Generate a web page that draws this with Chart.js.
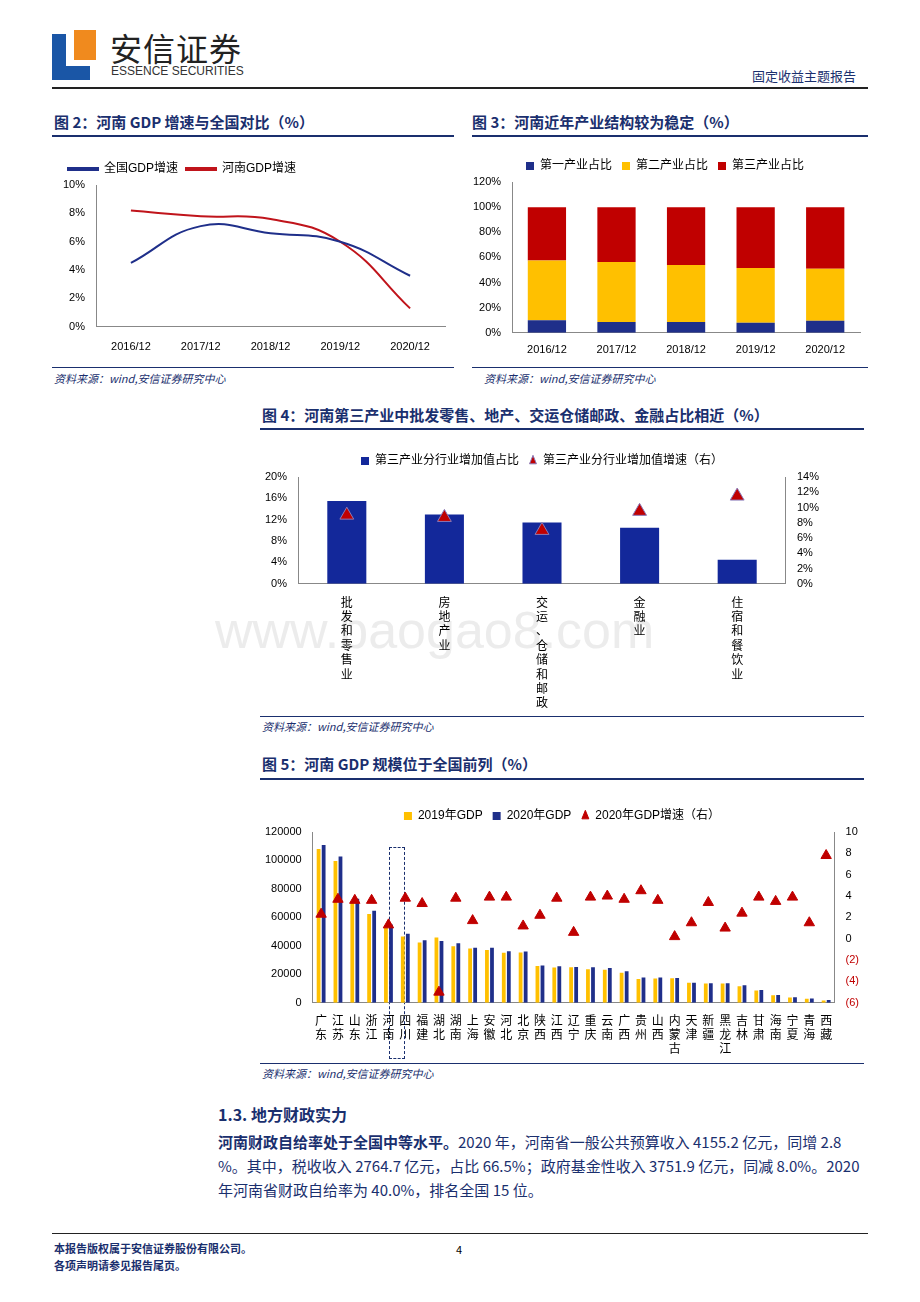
<!DOCTYPE html>
<html><head><meta charset="utf-8">
<script src="https://cdn.jsdelivr.net/npm/chart.js@4"></script>
<style>
body{margin:0;width:920px;height:1302px;background:#fff;font-family:"Noto Sans CJK SC","Noto Sans",sans-serif;position:relative;overflow:hidden}
.a{position:absolute}
.t{font-weight:bold;color:#1a2f6e;font-size:15px}
.ln{position:absolute;height:2px;background:#1a2f6e}
.src{font-size:11px;font-style:italic;color:#1a2f6e}
canvas{position:absolute}
</style></head><body>
<div class="a" style="left:52px;top:34px;width:14px;height:46px;background:#1a56a6"></div>
<div class="a" style="left:52px;top:66px;width:38px;height:14px;background:#1a56a6"></div>
<div class="a" style="left:74px;top:30px;width:22px;height:30px;background:#f08a1e"></div>
<div class="a" style="left:110px;top:24px;font-size:32px;color:#222;letter-spacing:1px">安信证券</div>
<div class="a" style="left:111px;top:64px;font-size:12px;color:#333;font-family:'Liberation Sans Narrow','Liberation Sans';">ESSENCE SECURITIES</div>
<div class="a" style="left:752px;top:66px;font-size:13px;color:#1a2f6e">固定收益主题报告</div>
<div class="ln" style="left:52px;top:87px;width:816px;height:1.5px;background:#222"></div>

<div class="a t" style="left:54px;top:111px">图 2：河南 GDP 增速与全国对比（%）</div>
<div class="ln" style="left:52px;top:135px;width:402px"></div>
<div class="a t" style="left:472px;top:111px">图 3：河南近年产业结构较为稳定（%）</div>
<div class="ln" style="left:472px;top:135px;width:396px"></div>
<div class="ln" style="left:52px;top:367px;width:402px;height:1px"></div>
<div class="ln" style="left:472px;top:367px;width:396px;height:1px"></div>
<div class="a src" style="left:54px;top:370px">资料来源：wind,安信证券研究中心</div>
<div class="a src" style="left:484px;top:370px">资料来源：wind,安信证券研究中心</div>

<div class="a t" style="left:262px;top:404px">图 4：河南第三产业中批发零售、地产、交运仓储邮政、金融占比相近（%）</div>
<div class="ln" style="left:260px;top:428px;width:604px"></div>
<div class="ln" style="left:260px;top:716px;width:604px;height:1px"></div>
<div class="a src" style="left:262px;top:718px">资料来源：wind,安信证券研究中心</div>

<div class="a t" style="left:262px;top:753px">图 5：河南 GDP 规模位于全国前列（%）</div>
<div class="ln" style="left:260px;top:778px;width:604px"></div>
<div class="ln" style="left:260px;top:1063px;width:604px;height:1px"></div>
<div class="a src" style="left:262px;top:1065px">资料来源：wind,安信证券研究中心</div>

<div class="a" style="left:218px;top:1102px;font-size:16px;font-weight:bold;color:#1a2f6e">1.3. 地方财政实力</div>
<div class="a" style="left:218px;top:1130px;width:650px;font-size:15px;line-height:24px;color:#1a2f6e"><b>河南财政自给率处于全国中等水平。</b>2020 年，河南省一般公共预算收入 4155.2 亿元，同增 2.8 %。其中，税收收入 2764.7 亿元，占比 66.5%；政府基金性收入 3751.9 亿元，同减 8.0%。2020 年河南省财政自给率为 40.0%，排名全国 15 位。</div>
<div class="ln" style="left:52px;top:1233px;width:816px;height:1px;background:#222"></div>
<div class="a" style="left:54px;top:1240px;font-size:11px;font-weight:bold;color:#1a2f6e;line-height:17px">本报告版权属于安信证券股份有限公司。<br>各项声明请参见报告尾页。</div>
<div class="a" style="left:456px;top:1241px;font-size:11px">4</div>
<div class="a" style="left:215px;top:600px;font-size:52px;color:rgba(200,200,200,0.35);font-family:'Liberation Sans'">www.baogao8.com</div>
<div class="a" style="left:389px;top:847px;width:14px;height:210px;border:1.5px dashed #1a2f6e"></div>

<canvas id="c2" style="left:50px;top:155px" width="405" height="205"></canvas>
<canvas id="c3" style="left:470px;top:150px" width="400" height="210"></canvas>
<canvas id="c4" style="left:262px;top:445px" width="560" height="268"></canvas>
<canvas id="c5" style="left:262px;top:800px" width="600" height="258"></canvas>
<script>
const years=['2016/12','2017/12','2018/12','2019/12','2020/12'];
const natGrowth=[4.5,7.1,6.6,6.0,3.6];
const henanGrowth=[8.2,7.8,7.6,6.0,1.3];
const ind1=[10,8.5,8.5,8,9.5];
const ind2=[47.5,47.8,45.5,43.5,41.5];
const ind3=[42.5,43.7,46,48.5,49];
const sectors=['批发和零售业','房地产业','交运、仓储和邮政','金融业','住宿和餐饮业'];
const sectorShare=[15.5,13,11.5,10.5,4.5];
const sectorGrowth=[9,8.7,7,9.5,11.5];
const provs=['广东','江苏','山东','浙江','河南','四川','福建','湖北','湖南','上海','安徽','河北','北京','陕西','江西','辽宁','重庆','云南','广西','贵州','山西','内蒙古','天津','新疆','黑龙江','吉林','甘肃','海南','宁夏','青海','西藏'];
const gdp2019=[108000,99600,71000,62400,54300,46600,42400,45800,39800,38100,37100,35100,35400,25800,24800,24900,23600,23200,21200,16800,17000,17200,14100,13600,13600,11700,8700,5300,3700,2900,1700];
const gdp2020=[110800,102700,73100,64600,55000,48600,43900,43400,41800,38700,38700,36200,36100,26200,25700,25100,25000,24500,22200,17800,17700,17400,14100,13800,13700,12300,9000,5500,3900,3000,1900];
const growth2020=[2.3,3.7,3.6,3.6,1.3,3.8,3.3,-5.0,3.8,1.7,3.9,3.9,1.2,2.2,3.8,0.6,3.9,4.0,3.7,4.5,3.6,0.2,1.5,3.4,1.0,2.4,3.9,3.5,3.9,1.5,7.8];

Chart.defaults.font.family='"Liberation Sans","Noto Sans CJK SC",sans-serif';
Chart.defaults.font.size=11;Chart.defaults.color='#000';
Chart.defaults.animation=false;Chart.defaults.responsive=false;
const ax={grid:{display:false},border:{color:'#888'},ticks:{color:'#000'}};
const lg={position:'top',labels:{boxWidth:8,boxHeight:8,font:{size:12},color:'#000',sort:(a,b)=>a.datasetIndex-b.datasetIndex}};
const mk=s=>s.split('');

new Chart(c2,{type:'line',data:{labels:years,datasets:[
{label:'全国GDP增速',data:natGrowth,borderColor:'#1f2f8a',backgroundColor:'#1f2f8a',borderWidth:2,pointRadius:0,tension:0.45},
{label:'河南GDP增速',data:henanGrowth,borderColor:'#c0141b',backgroundColor:'#c0141b',borderWidth:2,pointRadius:0,tension:0.45}]},
options:{layout:{padding:{right:10,left:10}},plugins:{legend:{...lg,align:'start',labels:{...lg.labels,boxWidth:30,boxHeight:2,padding:8}}},
scales:{x:{...ax,offset:true,ticks:{padding:6}},y:{...ax,min:0,max:10,ticks:{stepSize:2,callback:v=>v+'%'}}}}});

new Chart(c3,{type:'bar',data:{labels:years,datasets:[
{label:'第一产业占比',data:ind1,backgroundColor:'#1f2f8a'},
{label:'第二产业占比',data:ind2,backgroundColor:'#ffc000'},
{label:'第三产业占比',data:ind3,backgroundColor:'#c00000'}]},
options:{layout:{padding:{right:10}},plugins:{legend:lg},datasets:{bar:{barPercentage:0.55,categoryPercentage:1}},
scales:{x:{...ax,stacked:true},y:{...ax,stacked:true,min:0,max:120,ticks:{stepSize:20,callback:v=>v+'%'}}}}});

new Chart(c4,{type:'bar',data:{labels:sectors.map(mk),datasets:[
{label:'第三产业分行业增加值占比',data:sectorShare,backgroundColor:'#13289a',yAxisID:'y',order:2,barPercentage:0.4,categoryPercentage:1,pointStyle:'rect'},
{type:'line',label:'第三产业分行业增加值增速（右）',data:sectorGrowth,yAxisID:'y1',showLine:false,pointStyle:'triangle',pointRadius:8,pointBackgroundColor:'#c00000',pointBorderColor:'#8a7ab8',backgroundColor:'#c00000',order:1}]},
options:{plugins:{legend:{...lg,labels:{...lg.labels,usePointStyle:true,pointStyleWidth:8}}},
scales:{x:{...ax,ticks:{maxRotation:0,font:{size:12,family:'"Noto Sans CJK SC"'},autoSkip:false}},
y:{...ax,min:0,max:20,ticks:{stepSize:4,callback:v=>v+'%'}},
y1:{...ax,position:'right',min:0,max:14,ticks:{stepSize:2,autoSkip:false,callback:v=>v+'%'}}}}});

new Chart(c5,{type:'bar',data:{labels:provs.map(mk),datasets:[
{label:'2019年GDP',data:gdp2019,backgroundColor:'#ffc000',yAxisID:'y',order:2,barPercentage:0.75,categoryPercentage:0.6,pointStyle:'rect'},
{label:'2020年GDP',data:gdp2020,backgroundColor:'#1f2f8a',yAxisID:'y',order:2,barPercentage:0.75,categoryPercentage:0.6,pointStyle:'rect'},
{type:'line',label:'2020年GDP增速（右）',data:growth2020,yAxisID:'y1',showLine:false,pointStyle:'triangle',pointRadius:6,pointBackgroundColor:'#c00000',pointBorderColor:'#c00000',backgroundColor:'#c00000',order:1}]},
options:{plugins:{legend:{...lg,labels:{...lg.labels,usePointStyle:true,pointStyleWidth:8}}},
scales:{x:{...ax,ticks:{maxRotation:0,font:{size:12,family:'"Noto Sans CJK SC"'},autoSkip:false,padding:2}},
y:{...ax,min:0,max:120000,ticks:{stepSize:20000,callback:v=>String(v)}},
y1:{...ax,position:'right',min:-6,max:10,ticks:{stepSize:2,autoSkip:false,color:c=>c.tick.value<0?'#c00000':'#000',callback:v=>v<0?'('+(-v)+')':v}}}}});
</script>
</body></html>
